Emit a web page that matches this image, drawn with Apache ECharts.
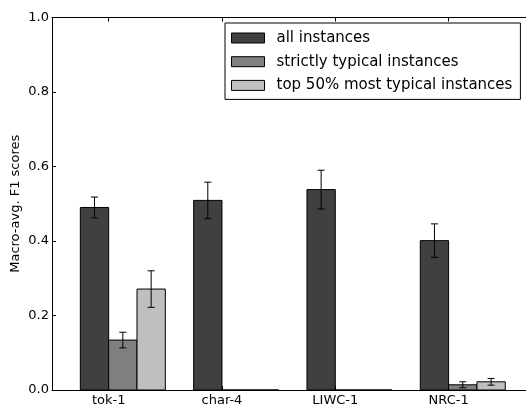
<!DOCTYPE html>
<html>
<head>
<meta charset="utf-8">
<script src="https://cdn.jsdelivr.net/npm/echarts@6/dist/echarts.min.js"></script>
<style>
  html, body { margin: 0; padding: 0; background: #fff; }
  #chart { width: 526px; height: 405px; }
</style>
</head>
<body>
<div id="chart"></div>
<script>
// Feature sets on the x axis
const categories = ['tok-1', 'char-4', 'LIWC-1', 'NRC-1'];
const seriesNames = ['all instances', 'strictly typical instances', 'top 50% most typical instances'];

// Macro-averaged F1 per feature set, with error-bar half widths
const allMeans = [0.490, 0.509, 0.538, 0.401];
const allErrs = [0.028, 0.049, 0.052, 0.045];
const strictMeans = [0.134, 0.0, 0.0, 0.014];
const strictErrs = [0.021, 0.0, 0.0, 0.008];
const topMeans = [0.271, 0.0, 0.0, 0.022];
const topErrs = [0.049, 0.0, 0.0, 0.009];

const yTicks = [0.0, 0.2, 0.4, 0.6, 0.8, 1.0];

const means = [allMeans, strictMeans, topMeans];
const errs = [allErrs, strictErrs, topErrs];
const fills = ['#404040', '#808080', '#bfbfbf'];

const FONT = 'DejaVu Sans';
const BAR = 0.25;            // bar width in x units
const GROUP_START = 0.25;    // first bar's left edge within each unit
const labelPos = categories.map((_, i) => i + 0.5);

const chart = echarts.init(document.getElementById('chart'), null, { renderer: 'canvas' });

// One custom series per group member: rectangle from the baseline to the value,
// with a black error bar (whisker + caps) on top.
const barSeries = means.map((vals, k) => ({
  name: seriesNames[k],
  type: 'custom',
  xAxisIndex: 0,
  yAxisIndex: 0,
  silent: true,
  itemStyle: { color: fills[k], borderColor: '#000', borderWidth: 1 },
  data: vals.map((v, i) => [i + GROUP_START + BAR * k, v, errs[k][i]]),
  renderItem: function (params, api) {
    const x0 = api.value(0), v = api.value(1), e = api.value(2);
    const tl = api.coord([x0, v]);
    const br = api.coord([x0 + BAR, 0]);
    const children = [{
      type: 'rect',
      shape: { x: tl[0], y: tl[1], width: br[0] - tl[0], height: br[1] - tl[1] },
      style: { fill: fills[k], stroke: '#000', lineWidth: 1 }
    }];
    if (e > 0) {
      const xc = x0 + BAR / 2;
      const hi = api.coord([xc, v + e]);
      const lo = api.coord([xc, v - e]);
      const cap = 3.5;
      const ls = { stroke: '#000', lineWidth: 1, fill: null };
      children.push(
        { type: 'line', shape: { x1: hi[0], y1: hi[1], x2: lo[0], y2: lo[1] }, style: ls },
        { type: 'line', shape: { x1: hi[0] - cap, y1: hi[1], x2: hi[0] + cap, y2: hi[1] }, style: ls },
        { type: 'line', shape: { x1: lo[0] - cap, y1: lo[1], x2: lo[0] + cap, y2: lo[1] }, style: ls }
      );
    }
    return { type: 'group', children: children };
  }
}));

const axisLine = { show: true, onZero: false, lineStyle: { color: '#000', width: 1 } };

chart.setOption({
  animation: false,
  backgroundColor: '#fff',
  textStyle: { fontFamily: FONT },
  grid: { left: 52, top: 17.5, width: 481.6, height: 372.5, containLabel: false, outerBoundsMode: 'none' },
  legend: {
    orient: 'vertical',
    left: 225,
    top: 23,
    padding: [6, 8, 5, 6],
    itemGap: 5.7,
    itemWidth: 33,
    itemHeight: 10,
    icon: 'rect',
    borderColor: '#000',
    borderWidth: 1,
    selectedMode: false,
    data: seriesNames.map((n, k) => ({
      name: n,
      icon: 'rect',
      itemStyle: { color: fills[k], borderColor: '#000', borderWidth: 1 }
    })),
    textStyle: { fontFamily: FONT, fontSize: 15, color: '#000', lineHeight: 18, padding: [0, 0, 0, 7] }
  },
  xAxis: [
    {
      type: 'value',
      position: 'bottom',
      min: 0,
      max: 4.25,
      axisLine: axisLine,
      splitLine: { show: false },
      axisTick: { show: true, inside: true, length: 4, customValues: labelPos, lineStyle: { color: '#000' } },
      axisLabel: {
        customValues: labelPos,
        margin: 4,
        fontFamily: FONT,
        fontSize: 13,
        color: '#000',
        formatter: v => categories[Math.round(v - 0.5)]
      }
    },
    {
      type: 'value',
      position: 'top',
      min: 0,
      max: 4.25,
      axisLine: axisLine,
      splitLine: { show: false },
      axisTick: { show: true, inside: true, length: 4, customValues: labelPos, lineStyle: { color: '#000' } },
      axisLabel: { show: false }
    }
  ],
  yAxis: [
    {
      type: 'value',
      min: 0,
      max: 1,
      interval: 0.2,
      name: 'Macro-avg. F1 scores',
      nameLocation: 'middle',
      nameRotate: 90,
      nameGap: 30,
      nameMoveOverlap: false,
      nameTextStyle: { fontFamily: FONT, fontSize: 13, color: '#000' },
      axisLine: axisLine,
      splitLine: { show: false },
      axisTick: { show: true, inside: true, length: 4, lineStyle: { color: '#000' } },
      axisLabel: {
        margin: 3,
        fontFamily: FONT,
        fontSize: 13,
        color: '#000',
        formatter: v => yTicks.includes(+v.toFixed(1)) ? v.toFixed(1) : ''
      }
    }
  ],
  series: barSeries
});
</script>
</body>
</html>
